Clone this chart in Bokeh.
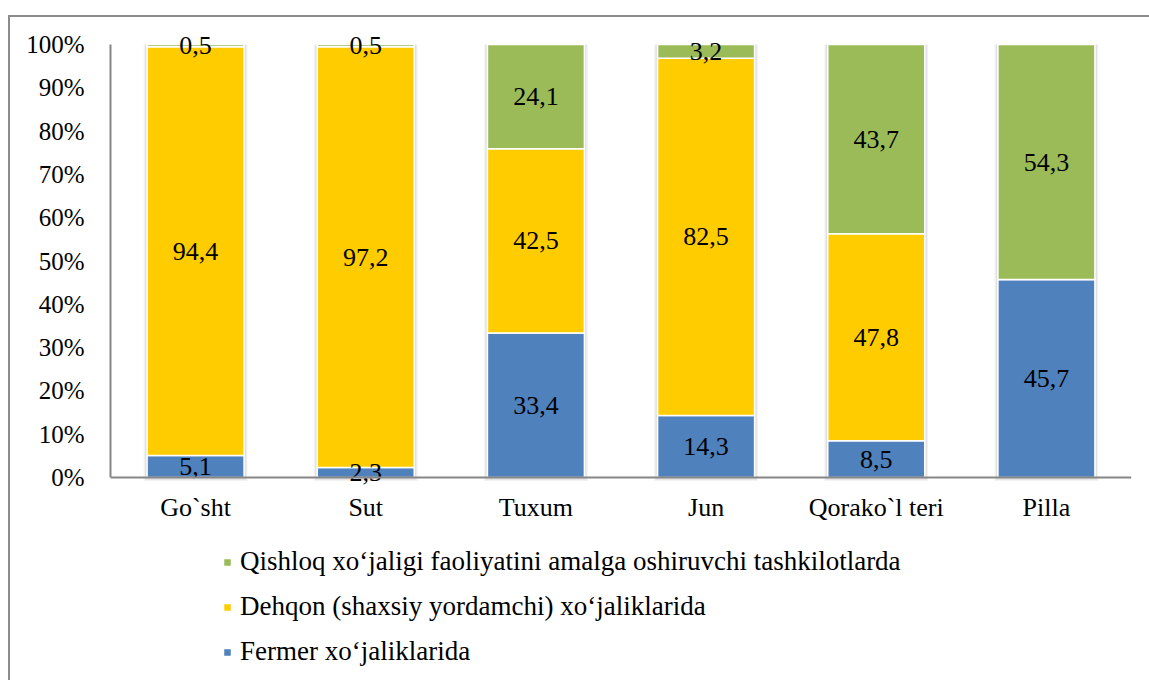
from bokeh.plotting import figure
from bokeh.models import (ColumnDataSource, FactorRange, FixedTicker, PrintfTickFormatter,
                          Legend, LegendItem, Range1d)
from bokeh.core.properties import value
from bokeh.embed import file_html
from bokeh.resources import INLINE

categories = ["Go`sht", "Sut", "Tuxum", "Jun", "Qorako`l teri", "Pilla"]
fermer = [5.1, 2.3, 33.4, 14.3, 8.5, 45.7]
dehqon = [94.4, 97.2, 42.5, 82.5, 47.8, 0.0]
qishloq = [0.5, 0.5, 24.1, 3.2, 43.7, 54.3]
y_ticks = [0, 10, 20, 30, 40, 50, 60, 70, 80, 90, 100]

series_names = ["Fermer xo‘jaliklarida",
                "Dehqon (shaxsiy yordamchi) xo‘jaliklarida",
                "Qishloq xo‘jaligi faoliyatini amalga oshiruvchi tashkilotlarda"]
colors = ["#4F81BD", "#FFCC00", "#9BBB59"]

FONT = "Liberation Serif"

totals = [a + b + c for a, b, c in zip(fermer, dehqon, qishloq)]
src = ColumnDataSource(dict(cat=categories, fermer=fermer, dehqon=dehqon,
                            qishloq=qishloq, total=totals))

PX = 4.33  # pixels per percent
# frame extended upward (14 px) for top labels and downward (203 px) for the legend
p = figure(x_range=FactorRange(*categories, range_padding=0),
           y_range=Range1d(-203 / PX, 100 + 14 / PX),
           width=1141, height=665, output_backend="svg", toolbar_location=None,
           min_border_left=102, min_border_right=18, min_border_top=15, min_border_bottom=0)
p.margin = (15, 0, 0, 8)
p.border_fill_color = None
p.background_fill_color = None
p.styles = {"box-shadow": "inset 2px 2px 0 0 #8c8c8c", "background-color": "white"}
p.outline_line_color = None
p.xgrid.grid_line_color = None
p.ygrid.grid_line_color = None

# soft shadow behind bars
p.vbar(x="cat", top="total", bottom=-0.8, width=0.61, source=src,
       fill_color="black", fill_alpha=0.05, line_color=None)
p.vbar(x="cat", top="total", bottom=-0.5, width=0.595, source=src,
       fill_color="black", fill_alpha=0.07, line_color=None)

rs = p.vbar_stack(["fermer", "dehqon", "qishloq"], x="cat", width=0.57, source=src,
                  color=colors, line_color="white", line_width=1.5)

# data labels
lx, ly, lt = [], [], []
for i, c in enumerate(categories):
    base = 0.0
    for arr in (fermer, dehqon, qishloq):
        v = arr[i]
        if v > 0:
            lx.append(c)
            ly.append(base + v / 2)
            lt.append(("%.1f" % v).replace(".", ","))
        base += v
p.text(x=lx, y=ly, text=lt, text_align="center", text_baseline="middle",
       text_font=value(FONT), text_font_size="26px", text_color="black")

for ax in (p.xaxis[0], p.yaxis[0]):
    ax.axis_line_color = "#868686"
    ax.axis_line_width = 2
    ax.major_tick_line_color = None
    ax.minor_tick_line_color = None
    ax.major_label_text_font = FONT
    ax.major_label_text_color = "black"

p.yaxis[0].major_label_text_font_size = "25px"
p.xaxis[0].major_label_text_font_size = "26px"
p.yaxis[0].ticker = FixedTicker(ticks=y_ticks)
p.yaxis[0].formatter = PrintfTickFormatter(format="%d%%")
p.yaxis[0].major_label_standoff = 20
p.yaxis[0].bounds = (0, 100)
p.xaxis[0].fixed_location = 0
p.xaxis[0].major_label_standoff = 9

items = [LegendItem(label=series_names[2], renderers=[rs[2]]),
         LegendItem(label=series_names[1], renderers=[rs[1]]),
         LegendItem(label=series_names[0], renderers=[rs[0]])]
legend = Legend(items=items, location=(112, 13), orientation="vertical",
                glyph_width=10, glyph_height=10, label_standoff=8, spacing=14,
                label_text_font=FONT, label_text_font_size="27px", label_text_color="black",
                border_line_color=None, background_fill_alpha=0, padding=0, margin=0)
p.add_layout(legend, "center")

open("out.html", "w").write(file_html(p, INLINE))
